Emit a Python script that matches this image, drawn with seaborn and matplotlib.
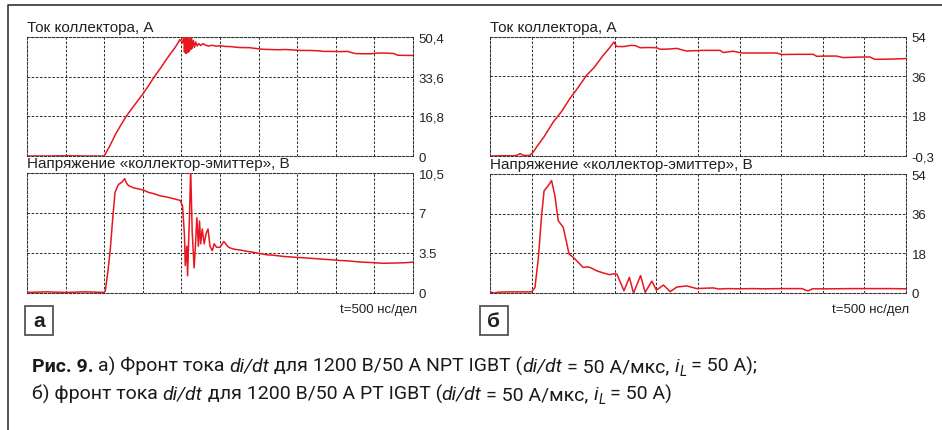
import matplotlib
matplotlib.use("Agg")
import matplotlib.pyplot as plt
import seaborn as sns
import pandas as pd
from matplotlib.lines import Line2D
from matplotlib.patches import Rectangle
from matplotlib.transforms import IdentityTransform

# ---------------- data (time in divisions, 500 ns/div) ----------------
a_cur_t = [0.0, 0.5, 1.0, 1.5, 2.0, 2.13, 2.3, 2.45, 2.57, 2.74, 2.87, 3.0, 3.15, 3.3, 3.45,
           3.61, 3.72, 3.83, 3.9, 3.96, 4.03, 4.06, 4.08, 4.10, 4.12, 4.14, 4.16, 4.18, 4.20,
           4.22, 4.24, 4.26, 4.28, 4.31, 4.34, 4.37, 4.41, 4.45, 4.5, 4.56, 4.63, 4.7, 4.8,
           4.9, 5.0, 5.15, 5.3, 5.45, 5.6, 5.75, 5.9, 6.1, 6.3, 6.5, 6.7, 6.9, 7.1, 7.3, 7.5,
           7.7, 7.9, 8.1, 8.3, 8.5, 8.7, 8.9, 9.1, 9.3, 9.5, 9.6, 9.8, 10.0]
a_cur_v = [0.0, 0.0, 0.1, 0.0, 0.0, 3.8, 9.4, 13.6, 16.8, 20.6, 23.4, 26.2, 29.8, 33.6, 37.0,
           40.9, 43.4, 45.8, 47.6, 49.3, 47.9, 50.6, 44.0, 51.0, 43.4, 50.2, 43.8, 50.8, 44.2,
           49.6, 45.0, 50.3, 45.6, 48.9, 46.0, 48.3, 46.6, 47.6, 46.8, 47.6, 46.9, 46.6, 46.9,
           46.5, 46.7, 46.4, 46.3, 46.0, 45.9, 45.9, 45.6, 45.2, 45.1, 45.0, 45.1, 44.9, 44.7,
           44.7, 44.6, 44.3, 44.3, 44.2, 44.3, 43.4, 43.3, 43.3, 43.6, 43.6, 43.4, 42.7, 42.6,
           42.6]

a_vol_t = [0.0, 0.5, 1.0, 1.5, 2.0, 2.03, 2.1, 2.16, 2.22, 2.28, 2.37, 2.46, 2.53, 2.58, 2.63,
           2.76, 2.9, 3.02, 3.15, 3.28, 3.45, 3.62, 3.8, 3.97, 4.03, 4.08, 4.10, 4.14, 4.16,
           4.21, 4.24, 4.28, 4.33, 4.36, 4.40, 4.44, 4.47, 4.50, 4.54, 4.59, 4.64, 4.69, 4.74,
           4.80, 4.85, 4.91, 5.0, 5.1, 5.22, 5.34, 5.52, 5.7, 5.86, 6.05, 6.2, 6.4, 6.64, 6.85,
           7.07, 7.3, 7.5, 7.7, 7.93, 8.1, 8.36, 8.5, 8.7, 9.0, 9.22, 9.5, 9.8, 10.0]
a_vol_v = [0.05, 0.1, 0.05, 0.1, 0.05, 0.2, 2.0, 3.9, 6.5, 8.8, 9.5, 9.7, 10.0, 9.6, 9.4,
           9.2, 9.1, 9.0, 8.8, 8.7, 8.5, 8.4, 8.25, 8.1, 7.6, 5.0, 2.4, 4.1, 1.5,
           6.8, 10.85, 5.3, 2.2, 3.9, 6.6, 4.1, 6.3, 4.3, 5.6, 4.3, 5.2, 5.6, 4.1,
           3.7, 4.3, 4.0, 4.0, 4.5, 4.0, 3.85, 3.76, 3.65, 3.56, 3.45, 3.35, 3.3, 3.2, 3.15,
           3.1, 3.05, 3.0, 2.95, 2.9, 2.85, 2.8, 2.75, 2.7, 2.65, 2.6, 2.62, 2.65, 2.7]

b_cur_t = [0.0, 0.3, 0.6, 0.68, 0.72, 0.78, 0.85, 0.96, 1.04, 1.12, 1.3, 1.52, 1.72, 1.92, 2.1,
           2.32, 2.5, 2.72, 2.85, 2.98, 3.04, 3.2, 3.29, 3.4, 3.5, 3.61, 3.8, 4.0, 4.1, 4.3,
           4.49, 4.6, 4.73, 5.0, 5.13, 5.53, 5.61, 5.75, 5.85, 6.0, 6.09, 6.5, 6.89, 7.01,
           7.4, 7.77, 7.85, 8.1, 8.33, 8.49, 8.8, 9.13, 9.25, 9.6, 9.94, 10.0]
b_cur_v = [-0.3, -0.2, -0.2, 0.3, 0.8, 0.2, -0.1, 0.0, 1.5, 3.8, 8.5, 15.2, 20.0, 25.9, 30.5,
           36.5, 40.0, 45.6, 48.5, 51.7, 49.7, 49.6, 49.9, 50.2, 50.0, 49.1, 49.2, 49.1, 48.4,
           48.5, 48.8, 48.2, 47.6, 47.8, 47.9, 47.9, 46.9, 47.3, 47.5, 46.9, 46.7, 46.7, 46.7,
           46.0, 46.1, 46.1, 45.2, 45.3, 45.3, 44.6, 44.8, 44.9, 43.8, 43.9, 44.1, 44.2]

b_vol_t = [0.0, 0.1, 0.2, 0.5, 0.8, 1.0, 1.08, 1.16, 1.24, 1.3, 1.4, 1.48, 1.56, 1.64, 1.76,
           1.84, 1.9, 2.0, 2.08, 2.24, 2.35, 2.45, 2.56, 2.72, 2.88, 2.97, 3.05, 3.22, 3.35,
           3.45, 3.62, 3.73, 3.89, 4.0, 4.17, 4.33, 4.49, 4.73, 4.85, 4.97, 5.2, 5.37, 5.5,
           5.7, 6.0, 6.3, 6.6, 7.0, 7.5, 7.6, 7.65, 7.75, 8.2, 8.7, 9.2, 9.6, 10.0]
b_vol_v = [0.5, 0.0, 0.4, 0.5, 0.5, 0.5, 2.4, 15.4, 35.0, 46.4, 48.7, 51.0, 44.2, 32.8, 29.8,
           23.0, 17.7, 16.2, 14.7, 11.6, 11.9, 11.2, 10.1, 9.1, 8.3, 8.7, 8.6, 1.0, 7.1,
           0.0, 7.9, 0.3, 5.4, 1.3, 3.6, 0.6, 2.7, 3.2, 2.6, 2.0, 2.2, 2.3, 1.8,
           2.0, 1.9, 2.0, 1.9, 2.0, 2.0, 1.2, 1.0, 1.9, 1.9, 2.0, 2.0, 2.0, 1.9]

a_cur_ticks = [0, 16.8, 33.6, 50.4]
a_cur_labels = ["0", "16,8", "33,6", "50,4"]
a_vol_ticks = [0, 3.5, 7, 10.5]
a_vol_labels = ["0", "3.5", "7", "10,5"]
b_cur_ticks = [-0.3, 18, 36, 54]
b_cur_labels = ["-0,3", "18", "36", "54"]
b_vol_ticks = [0, 18, 36, 54]
b_vol_labels = ["0", "18", "36", "54"]

title_cur = "Ток коллектора, А"
title_vol = "Напряжение «коллектор-эмиттер», В"
time_note = "t=500 нс/дел"

# ---------------- style ----------------
sns.set_style("white")
plt.rcParams["font.family"] = ["Liberation Sans", "DejaVu Sans"]

W, H = 942, 431
fig = plt.figure(figsize=(W / 100, H / 100), dpi=100)
fig.patch.set_facecolor("white")

RED = "#e8161e"
GRID = "#333333"
DASH = (0, (2.4, 1.6))


def fbox(l, t, r, b):
    return [l / W, 1 - b / H, (r - l) / W, (b - t) / H]


def panel(rect, t, v, ticks, labels, title):
    ax = fig.add_axes(rect)
    df = pd.DataFrame({"t": t, "v": v})
    sns.lineplot(data=df, x="t", y="v", ax=ax, color=RED, lw=1.1,
                 sort=False, estimator=None, zorder=3)
    ax.set_xlim(0, 10)
    ax.set_ylim(ticks[0], ticks[-1])
    ax.set_xticks(range(11))
    ax.set_yticks(ticks)
    ax.set_yticklabels(labels)
    ax.grid(True, color=GRID, ls=DASH, lw=0.75)
    ax.set_axisbelow(True)
    ax.tick_params(length=0, labelbottom=False, labelleft=False, labelright=True,
                   pad=4, labelsize=9.5, labelcolor="#222222")
    for s in ax.spines.values():
        s.set_visible(True)
        s.set_linestyle(DASH)
        s.set_color(GRID)
        s.set_linewidth(0.75)
    ax.set_xlabel("")
    ax.set_ylabel("")
    ax.annotate(title, xy=(0, 1), xycoords="axes fraction", xytext=(0, 6),
                textcoords="offset pixels", ha="left", va="baseline",
                fontsize=11, color="#222222")
    return ax


axa1 = panel(fbox(27, 38, 413, 157), a_cur_t, a_cur_v, a_cur_ticks, a_cur_labels, title_cur)
axa2 = panel(fbox(27, 174, 413, 294), a_vol_t, a_vol_v, a_vol_ticks, a_vol_labels, title_vol)
axb1 = panel(fbox(490, 38, 906, 157), b_cur_t, b_cur_v, b_cur_ticks, b_cur_labels, title_cur)
axb2 = panel(fbox(490, 175, 906, 294), b_vol_t, b_vol_v, b_vol_ticks, b_vol_labels, title_vol)

# time-scale notes
fig.text(417 / W, 1 - 313 / H, time_note, ha="right", va="baseline", fontsize=9.5, color="#222222")
fig.text(909 / W, 1 - 313 / H, time_note, ha="right", va="baseline", fontsize=9.5, color="#222222")

# panel letter boxes
for (l, letter) in [(25, "а"), (480, "б")]:
    fig.add_artist(Rectangle((l / W, 1 - 336 / H), 28 / W, 29 / H, transform=fig.transFigure,
                             fill=False, ec="#555555", lw=1.3))
    fig.text((l + 14) / W, 1 - 322 / H, letter, ha="center", va="center",
             fontsize=15, fontweight="bold", color="#222222")

# outer frame (left and top sides)
fig.add_artist(Line2D([8 / W, 8 / W, 1.0], [0.0, 1 - 6 / H, 1 - 6 / H],
                      transform=fig.transFigure, color="#333333", lw=1.2))

# ---------------- caption ----------------
CAP = ["Roboto", "DejaVu Sans"]
renderer = fig.canvas.get_renderer()
PX = IdentityTransform()


def text_width(s, size, style="normal", weight="normal"):
    t = fig.text(0, 0, s, transform=PX, family=CAP, fontsize=size,
                 fontweight=weight, fontstyle=style)
    w = t.get_window_extent(renderer).width
    t.remove()
    return w


def runs(x, y, parts, size, draw=True):
    space = text_width("a a", size) - text_width("aa", size)
    for txt, style, weight, sub in parts:
        lead = len(txt) - len(txt.lstrip(" "))
        trail = len(txt) - len(txt.rstrip(" "))
        core = txt.strip(" ")
        x += lead * space
        s = size * (0.7 if sub else 1.0)
        if draw:
            t = fig.text(x, y - (4 if sub else 0), core, transform=PX, family=CAP, fontsize=s,
                         fontstyle=style, fontweight=weight, ha="left", va="baseline",
                         color="#1a1a1a")
            w = t.get_window_extent(renderer).width
        else:
            w = text_width(core, s, style, weight)
        x += w + trail * space
    return x


N, I, B = "normal", "italic", "bold"
line1 = [("Рис. 9. ", N, B, False), ("а) Фронт тока ", N, N, False), ("di/dt", I, N, False),
         (" для 1200 В/50 А NPT IGBT (", N, N, False), ("di/dt", I, N, False),
         (" = 50 А/мкс, ", N, N, False), ("i", I, N, False), ("L", I, N, True),
         (" = 50 А);", N, N, False)]
line2 = [("б) фронт тока ", N, N, False), ("di/dt", I, N, False),
         (" для 1200 В/50 А PT IGBT (", N, N, False), ("di/dt", I, N, False),
         (" = 50 А/мкс, ", N, N, False), ("i", I, N, False), ("L", I, N, True),
         (" = 50 А)", N, N, False)]

# fit the caption to the width it takes in the reference (line 2: x 32 -> 675 px)
base = 12.5
w2 = runs(32, 0, line2, base, draw=False) - 32
cap_size = min(base * 643 / w2, 14.0)
runs(32, H - 372, line1, cap_size)
runs(32, H - 400, line2, cap_size)

fig.savefig("out.png", dpi=100, facecolor="white")
